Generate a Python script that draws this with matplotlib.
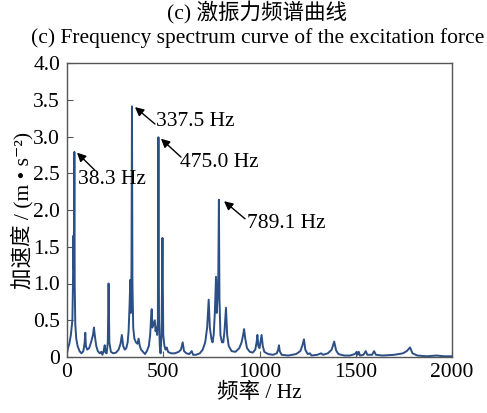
import matplotlib
matplotlib.use("Agg")
import matplotlib.pyplot as plt

plt.rcParams['font.family'] = ['Liberation Serif', 'DejaVu Serif', 'Noto Sans CJK SC']

# Spectrum: frequency (Hz) and acceleration (m/s^2)
freq = [0, 5, 12, 20, 28, 31, 33, 35, 36.5, 38.3, 40, 43, 48, 55, 65, 75, 85, 92, 95, 98,
        105, 115, 125, 135, 140, 145, 152, 160, 170, 178, 184, 190, 196, 200, 206, 212, 216, 220,
        228, 240, 255, 268, 278, 285, 292, 300, 308, 315, 320, 325, 329, 332, 335, 337.5, 340,
        344, 350, 358, 366, 372, 378, 385, 395, 405, 415, 425, 432, 437, 440, 444, 450, 456,
        460, 465, 468, 472, 475, 478, 482, 486, 491, 496, 500, 506, 512, 518, 525, 540, 560,
        580, 592, 601, 608, 620, 635, 648, 655, 670, 690, 705, 718, 728, 736, 742, 750, 756,
        762, 768, 774, 778, 782, 786, 789.1, 792, 797, 805, 812, 818, 826, 832, 840, 855, 875,
        895, 907, 915, 920, 926, 935, 950, 965, 978, 985, 989, 994, 1000, 1005, 1011, 1017,
        1025, 1045, 1070, 1090, 1097, 1101, 1105, 1115, 1150, 1190, 1212, 1222, 1231, 1238,
        1250, 1262, 1270, 1300, 1320, 1330, 1355, 1375, 1388, 1398, 1410, 1440, 1470, 1495,
        1505, 1510, 1516, 1522, 1540, 1552, 1560, 1585, 1595, 1605, 1640, 1700, 1745, 1765,
        1782, 1795, 1820, 1870, 1920, 1960, 2000]
accel = [0.05, 0.12, 0.18, 0.3, 0.5, 1.0, 1.65, 1.2, 1.6, 2.79, 1.0, 0.45, 0.25, 0.15, 0.08, 0.05, 0.08, 0.2, 0.33, 0.15,
         0.1, 0.12, 0.2, 0.3, 0.4, 0.28, 0.15, 0.08, 0.05, 0.07, 0.03, 0.08, 0.16, 0.06, 0.05, 0.2, 1.0, 0.2,
         0.07, 0.05, 0.06, 0.1, 0.18, 0.3, 0.15, 0.1, 0.12, 0.2, 0.35, 0.7, 1.05, 0.6, 1.2, 3.41, 1.0,
         0.4, 0.25, 0.2, 0.18, 0.25, 0.15, 0.1, 0.07, 0.04, 0.08, 0.15, 0.3, 0.55, 0.65, 0.4, 0.45, 0.5,
         0.35, 0.4, 0.3, 0.5, 2.99, 0.5, 0.15, 0.05, 0.3, 1.62, 0.3, 0.15, 0.1, 0.13, 0.07, 0.05, 0.05,
         0.07, 0.1, 0.2, 0.08, 0.05, 0.04, 0.08, 0.03, 0.03, 0.05, 0.1, 0.2, 0.4, 0.78, 0.4, 0.25, 0.2,
         0.3, 0.6, 1.09, 0.6, 0.8, 1.1, 2.14, 0.8, 0.3, 0.2, 0.2, 0.35, 0.67, 0.3, 0.15, 0.08, 0.07,
         0.12, 0.2, 0.3, 0.38, 0.25, 0.12, 0.07, 0.06, 0.1, 0.2, 0.3, 0.15, 0.12, 0.2, 0.3, 0.15,
         0.07, 0.04, 0.03, 0.05, 0.1, 0.16, 0.08, 0.03, 0.02, 0.04, 0.08, 0.15, 0.24, 0.1,
         0.04, 0.05, 0.02, 0.03, 0.05, 0.03, 0.05, 0.1, 0.21, 0.09, 0.04, 0.02, 0.02, 0.04,
         0.07, 0.03, 0.07, 0.02, 0.03, 0.08, 0.03, 0.03, 0.08, 0.03, 0.02, 0.03, 0.05, 0.08,
         0.13, 0.05, 0.02, 0.01, 0.02, 0.01, 0.01]

peak_labels = ["38.3 Hz", "337.5 Hz", "475.0 Hz", "789.1 Hz"]
peak_heads = [(52, 2.78), (353, 3.40), (488, 2.97), (816, 2.12)]
peak_tails = [(145, 2.54), (457, 3.17), (592, 2.72), (925, 1.88)]
peak_text = [(57, 2.41), (462, 3.20), (587, 2.65), (935, 1.81)]

xticks = [0, 500, 1000, 1500, 2000]
yticks = [0, 0.5, 1.0, 1.5, 2.0, 2.5, 3.0, 3.5, 4.0]
yticklabels = ["0", "0.5", "1.0", "1.5", "2.0", "2.5", "3.0", "3.5", "4.0"]

FS = 15.5

fig = plt.figure(figsize=(4.87, 4.13), dpi=100)
ax = fig.add_axes([67/487, 1-357/413, (452-67)/487, (357-63)/413])
ax.plot(freq, accel, color='#2c4f86', lw=1.4)
ax.set_xlim(0, 2000)
ax.set_ylim(0, 4.0)
ax.set_xticks(xticks)
ax.set_yticks(yticks)
ax.set_yticklabels(yticklabels)
ax.tick_params(direction='in', labelsize=FS, length=4, color='#555555')
ax.tick_params(axis='y', pad=5)
ax.tick_params(axis='x', pad=4)
for s in ax.spines.values():
    s.set_color('#555555')
    s.set_linewidth(1.0)

for lab, head, tail, tp in zip(peak_labels, peak_heads, peak_tails, peak_text):
    ax.annotate('', xy=head, xytext=tail,
                arrowprops=dict(arrowstyle='-|>', color='black', lw=1.0, mutation_scale=13,
                                shrinkA=0, shrinkB=0))
    ax.text(tp[0], tp[1], lab, ha='left', va='center', fontsize=FS)

ax.set_xlabel('频率 / Hz', fontsize=FS, labelpad=1)
ax.set_ylabel('加速度 / (m • s\u207b\u00b2)', fontsize=FS, labelpad=0)

fig.text(257/487, 1-13/413, '(c) 激振力频谱曲线', ha='center', va='center', fontsize=FS)
fig.text(0.53, 1-38/413, '(c) Frequency spectrum curve of the excitation force',
         ha='center', va='center', fontsize=FS)

fig.savefig('out.png', dpi=100)
